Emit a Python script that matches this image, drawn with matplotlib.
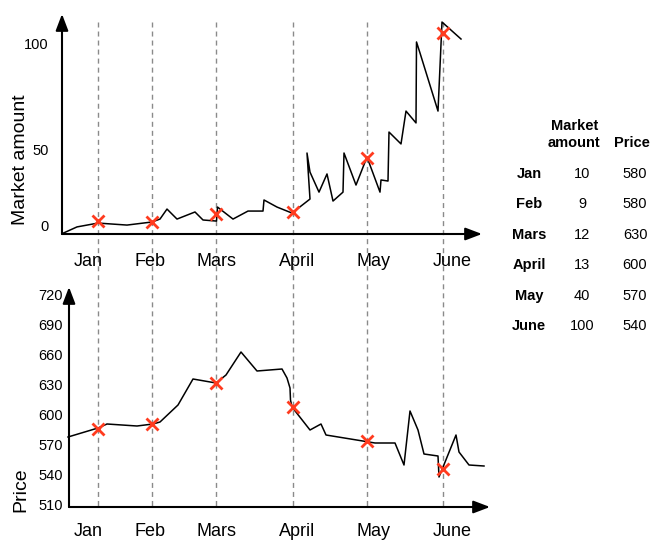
import numpy as np
import matplotlib
matplotlib.use("Agg")
import matplotlib.pyplot as plt
import matplotlib.transforms as mtransforms

plt.rcParams['font.family'] = ['Liberation Sans', 'DejaVu Sans']

# months and where each month sits on the time axis
months = ['Jan', 'Feb', 'Mars', 'April', 'May', 'June']
month_t = [36, 90, 154.5, 230.5, 305.5, 381]

# market amount curve
amount_t = [0, 15, 36, 65, 90, 98, 105, 115, 133, 141, 154.5, 155.5, 171, 186,
            201, 202, 215, 230, 248, 245, 248, 257, 265, 271, 281, 282, 294,
            305, 318, 319, 326, 327, 339, 344, 354, 354.5, 358, 376, 380, 399]
amount_v = [-5, -0.6, 1.9, 0.6, 2.6, 4.5, 11, 4.5, 9.1, 3.9, 3.2, 12.3, 4.5, 9.7,
            9.7, 16.9, 12.3, 8.4, 17.5, 47.4, 35, 22, 33.8, 16.2, 22, 47.4, 26.6,
            44.8, 22, 29.9, 29.2, 58, 52.4, 67.9, 62.3, 100.5, 95.3, 67.9, 109.9, 101.9]
amount_marks = [3.2, 2.6, 7.8, 9.1, 44.2, 104.7]

# price curve
price_t = [6, 36, 45, 75, 91, 98, 116, 131, 154, 164, 179, 195, 220, 225, 228,
           228.5, 230, 248, 259, 264, 313, 333, 342, 348, 356, 362, 376, 377,
           394, 397, 407, 422]
price_v = [578, 587, 591, 589, 591, 593, 610, 636, 632, 640, 663, 644, 646, 637, 627,
           615, 608, 585, 591, 580, 572, 572, 550, 604, 585, 561, 559, 538,
           580, 563, 550, 549]
price_marks = [586, 591, 632, 608, 574, 546]

# summary table
table_amount = [10, 9, 12, 13, 40, 100]
table_price = [580, 580, 630, 600, 570, 540]

amount_ticks = [0, 50, 100]
price_ticks = [510, 540, 570, 600, 630, 660, 690, 720]


# hand drawn amount axis: 0-50 is squeezed compared to 50-100
def fwd(v):
    v = np.asarray(v, dtype=float)
    return np.where(v <= 50, v * 1.54, 77 + (v - 50) * 2.12)


def inv(h):
    h = np.asarray(h, dtype=float)
    return np.where(h <= 77, h / 1.54, 50 + (h - 77) / 2.12)


W, H = 652, 540
fig = plt.figure(figsize=(W / 100, H / 100), dpi=100)

ax1 = fig.add_axes([62 / W, 1 - 234 / H, 428 / W, 220 / H])
ax2 = fig.add_axes([62 / W, 1 - 507 / H, 428 / W, 220 / H])

ax1.set_yscale('function', functions=(fwd, inv))
ax1.set_xlim(0, 428)
ax1.set_ylim(-5.2, 113.7)
ax2.set_xlim(0, 428)
ax2.set_ylim(508, 728)

red = '#ff3b1f'
arrow = dict(arrowstyle='-|>,head_length=1.0,head_width=0.38', color='k',
             lw=1.5, shrinkA=0, shrinkB=0, mutation_scale=10)

# dashed month lines running through both panels
trans = mtransforms.blended_transform_factory(ax1.transData, fig.transFigure)
for t in month_t:
    ax1.plot([t, t], [1 - 22 / H, 1 - 507 / H], transform=trans, color='#8a8a8a',
             lw=1.0, dashes=(3.6, 2.9), clip_on=False, zorder=1)

# top panel
ax1.plot(amount_t, amount_v, color='k', lw=1.1, clip_on=False, zorder=3)
ax1.plot(month_t, amount_marks, 'x', color=red, ms=9, mew=2, clip_on=False, zorder=4)
ax1.annotate('', xy=(420, -5.2), xytext=(0, -5.2), arrowprops=arrow, annotation_clip=False)
ax1.annotate('', xy=(0, 113.7), xytext=(0, -5.2), arrowprops=arrow, annotation_clip=False)
ax1.set_yticks(amount_ticks)
ax1.set_yticklabels([str(v) for v in amount_ticks])
ax1.tick_params(axis='y', length=0, pad=9.4, labelsize=10.5)

# bottom panel
ax2.plot(price_t, price_v, color='k', lw=1.1, clip_on=False, zorder=3)
ax2.plot(month_t, price_marks, 'x', color=red, ms=9, mew=2, clip_on=False, zorder=4)
ax2.annotate('', xy=(428, 508), xytext=(7, 508), arrowprops=arrow, annotation_clip=False)
ax2.annotate('', xy=(7, 728), xytext=(7, 508), arrowprops=arrow, annotation_clip=False)
ax2.set_yticks(price_ticks)
ax2.set_yticklabels([str(v) for v in price_ticks])
ax2.tick_params(axis='y', length=0, pad=-0.5, labelsize=10.5)

for ax in (ax1, ax2):
    for s in ax.spines.values():
        s.set_visible(False)
    ax.set_xticks([])
    ax.patch.set_alpha(0)

# month labels under each panel
label_px = [88, 150, 217, 297, 373, 452]
for m, x in zip(months, label_px):
    fig.text(x / W, 1 - 262 / H, m, ha='center', va='center', fontsize=13)
    fig.text(x / W, 1 - 532 / H, m, ha='center', va='center', fontsize=13)

fig.text(21 / W, 1 - 160 / H, 'Market amount', rotation=90, ha='center', va='center', fontsize=14)
fig.text(21 / W, 1 - 490 / H, 'Price', rotation=90, ha='center', va='center', fontsize=14)

# table on the right
fig.text(575 / W, 1 - 126 / H, 'Market', ha='center', va='center', fontsize=10.5, fontweight='bold')
fig.text(574 / W, 1 - 143 / H, 'amount', ha='center', va='center', fontsize=10.5, fontweight='bold')
fig.text(632 / W, 1 - 143 / H, 'Price', ha='center', va='center', fontsize=10.5, fontweight='bold')
for i, m in enumerate(months):
    y = 1 - (174 + 30.4 * i) / H
    fig.text(529 / W, y, m, ha='center', va='center', fontsize=10.5, fontweight='bold')
    fig.text(582 / W, y, str(table_amount[i]), ha='center', va='center', fontsize=10.5)
    fig.text(635 / W, y, str(table_price[i]), ha='center', va='center', fontsize=10.5)

fig.savefig('out.png', dpi=100)
